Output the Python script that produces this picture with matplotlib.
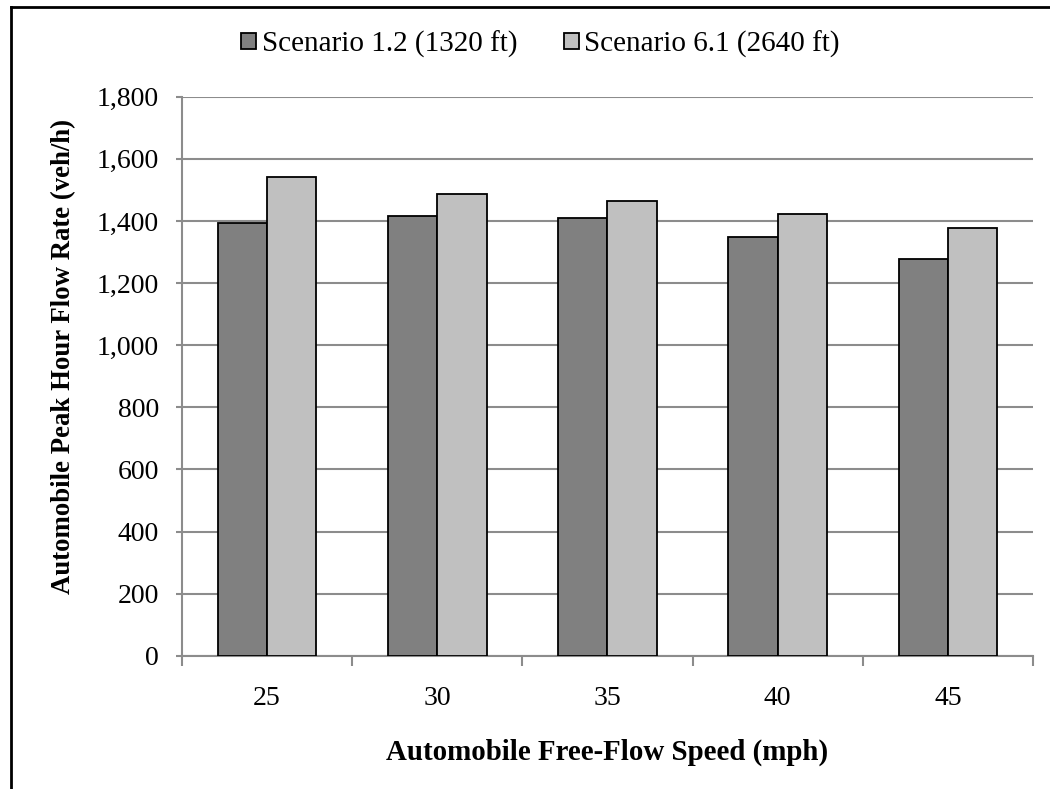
"""
Flow rate comparison by free-flow speed.
"""
import numpy as np
import matplotlib.pyplot as plt
from matplotlib.lines import Line2D

speeds = ["25", "30", "35", "40", "45"]
scenario_12 = [1395, 1417, 1410, 1347, 1277]
scenario_61 = [1540, 1487, 1463, 1424, 1376]
series_names = ["Scenario 1.2 (1320 ft)", "Scenario 6.1 (2640 ft)"]

plt.rcParams["font.family"] = ["Liberation Serif", "DejaVu Serif"]

fig = plt.figure(figsize=(10.5, 7.89), dpi=100)
ax = fig.add_axes([0.1733, 0.1688, 0.8105, 0.7086])

x = np.arange(len(speeds))
w = 0.29
ax.bar(x - w / 2, scenario_12, w, color="#808080", edgecolor="black",
       linewidth=1.3, label=series_names[0], zorder=3)
ax.bar(x + w / 2, scenario_61, w, color="#c0c0c0", edgecolor="black",
       linewidth=1.3, label=series_names[1], zorder=3)

ax.set_xlim(-0.5, len(speeds) - 0.5)
ax.set_ylim(0, 1800)
ax.set_yticks(range(0, 1801, 200))
ax.set_yticklabels([f"{v:,}" for v in range(0, 1801, 200)])
ax.set_xticks(x)
ax.set_xticklabels(speeds)
ax.set_xticks(np.arange(-0.5, len(speeds)), minor=True)

ax.grid(axis="y", color="#8c8c8c", linewidth=1.5, zorder=0)
for s in ["top", "right"]:
    ax.spines[s].set_visible(False)
for s in ["left", "bottom"]:
    ax.spines[s].set_color("#8c8c8c")
    ax.spines[s].set_linewidth(1.5)

ax.tick_params(axis="y", direction="out", length=4.5, width=1.5,
               color="#8c8c8c", labelsize=20, pad=12)
ax.tick_params(axis="x", which="major", length=0, labelsize=20, pad=22)
ax.tick_params(axis="x", which="minor", direction="out", length=7,
               width=1.5, color="#8c8c8c")

ax.set_xlabel("Automobile Free-Flow Speed (mph)", fontsize=20.8,
              fontweight="bold", labelpad=20)
ax.set_ylabel("Automobile Peak Hour Flow Rate (veh/h)", fontsize=19.3,
              fontweight="bold", labelpad=15)
ax.yaxis.label.set_y(0.536)

fig.legend(loc="center", bbox_to_anchor=(0.515, 0.944), ncol=2,
           frameon=False, fontsize=21, handlelength=0.5, handleheight=0.5,
           handletextpad=0.2, columnspacing=1.6)

# outer frame (top and left only)
fig.add_artist(Line2D([0.0105, 1.0], [0.9915, 0.9915], color="black",
                      linewidth=2, transform=fig.transFigure))
fig.add_artist(Line2D([0.0105, 0.0105], [0.0, 0.9915], color="black",
                      linewidth=2, transform=fig.transFigure))

fig.savefig("out.png")
plt.close(fig)
